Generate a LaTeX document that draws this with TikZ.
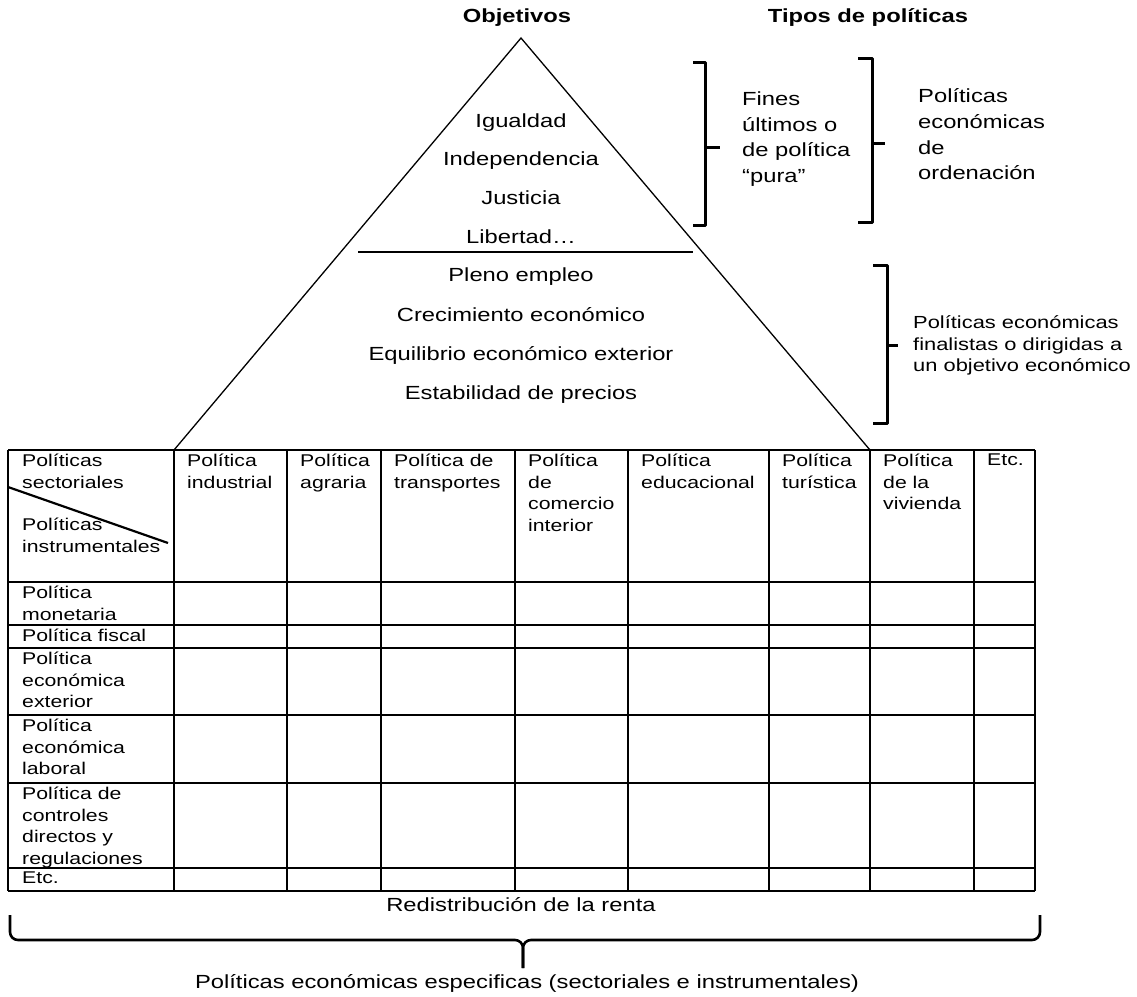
\documentclass[tikz,border=0pt]{standalone}
\usepackage{fontspec}
\setmainfont{Liberation Sans}[FakeStretch=1.25]
\usetikzlibrary{positioning}
\tikzstyle{title} = [inner sep=0pt, font=\bfseries\fontsize{19}{23}\selectfont]
\tikzstyle{objective} = [inner sep=0pt, anchor=base, font=\fontsize{19}{23}\selectfont]
\tikzstyle{typetext} = [anchor=west, align=left, inner sep=0pt, font=\fontsize{19}{25.7}\selectfont]
\tikzstyle{cell} = [anchor=north west, align=left, inner sep=0pt, font=\fontsize{17}{21.5}\selectfont]
\tikzstyle{bracket} = [line width=3pt, line join=round]
\tikzstyle{grid} = [line width=1.6pt]

\begin{document}
\begin{tikzpicture}[x=1pt, y=-1pt]
    \useasboundingbox (0,0) rectangle (1137,996);

    % pyramid of objectives
    \coordinate (apex) at (521,38);
    \coordinate (baseL) at (174,450);
    \coordinate (baseR) at (870,450);
    \coordinate (midL) at (358,252);
    \coordinate (midR) at (693,252);
    \draw [line width=1.3pt] (baseL) -- (apex) -- (baseR);
    \draw [line width=2.4pt] (midL) -- (midR);

    \node (objetivos) [title] at (517,18) {Objetivos};
    \node (tipos) [title] at (868,18) {Tipos de políticas};

    \node (igualdad) [objective] at (521,127) {Igualdad};
    \node (independencia) [objective] at (521,165) {Independencia};
    \node (justicia) [objective] at (521,204) {Justicia};
    \node (libertad) [objective] at (521,243) {Libertad\dots};
    \node (pleno) [objective] at (521,281) {Pleno empleo};
    \node (crecimiento) [objective] at (521,321) {Crecimiento económico};
    \node (equilibrio) [objective] at (521,360) {Equilibrio económico exterior};
    \node (estabilidad) [objective] at (521,399) {Estabilidad de precios};

    % brackets on the right
    \coordinate (finesTip) at (720,147);
    \coordinate (ordenTip) at (885,143);
    \coordinate (finalTip) at (898,345);
    \draw [bracket] (693,62) -- (705,62) -- (705,225) -- (693,225);
    \draw [bracket] (705,147) -- (finesTip);
    \draw [bracket] (858,58) -- (872,58) -- (872,222) -- (858,222);
    \draw [bracket] (872,143) -- (ordenTip);
    \draw [bracket] (873,265) -- (887,265) -- (887,423) -- (873,423);
    \draw [bracket] (887,345) -- (finalTip);

    \node (fines) [typetext] at (742,139) {Fines\\últimos o\\de política\\“pura"};
    \node (ordenacion) [typetext] at (918,134.5) {Políticas\\económicas\\de\\ordenación};
    \node (finalistas) [typetext, font=\fontsize{17.5}{21.5}\selectfont] at (913,345.5) {Políticas económicas\\finalistas o dirigidas a\\un objetivo económico};

    % table
    \foreach \x in {8,174,287,381,515,628,769,870,974,1035}
        \draw [grid] (\x,450) -- (\x,891);
    \foreach \y in {450,582,625,648,715,783,868,891}
        \draw [grid] (8,\y) -- (1035,\y);
    \draw [line width=2.2pt] (8,487) -- (168,543);

    \node (sectoriales) [cell] at (22,454) {Políticas\\sectoriales};
    \node (instrumentales) [cell] at (22,518) {Políticas\\instrumentales};

    \node (industrial) [cell] at (187,454) {Política\\industrial};
    \node (agraria) [cell] at (300,454) {Política\\agraria};
    \node (transportes) [cell] at (394,454) {Política de\\transportes};
    \node (comercio) [cell] at (528,454) {Política\\de\\comercio\\interior};
    \node (educacional) [cell] at (641,454) {Política\\educacional};
    \node (turistica) [cell] at (782,454) {Política\\turística};
    \node (vivienda) [cell] at (883,454) {Política\\de la\\vivienda};
    \node (etcCol) [cell] at (987,454) {Etc.};

    \node (monetaria) [cell] at (22,586) {Política\\monetaria};
    \node (fiscal) [cell] at (22,629) {Política fiscal};
    \node (exterior) [cell] at (22,652) {Política\\económica\\exterior};
    \node (laboral) [cell] at (22,719) {Política\\económica\\laboral};
    \node (controles) [cell] at (22,787) {Política de\\controles\\directos y\\regulaciones};
    \node (etcRow) [cell] at (22,872) {Etc.};

    % bottom brace
    \coordinate (braceTip) at (523,968);
    \draw [bracket, line width=2.6pt, rounded corners=8pt] (10,915) -- (10,940) -- (523,940) -- (braceTip);
    \draw [bracket, line width=2.6pt, rounded corners=8pt] (1040,915) -- (1040,940) -- (523,940) -- (braceTip);

    \node (renta) [title, font=\fontsize{19}{23}\selectfont] at (521,905) {Redistribución de la renta};
    \node (especificas) [title, font=\fontsize{19}{23}\selectfont] at (527,983) {Políticas económicas especificas (sectoriales e instrumentales)};
\end{tikzpicture}
\end{document}
